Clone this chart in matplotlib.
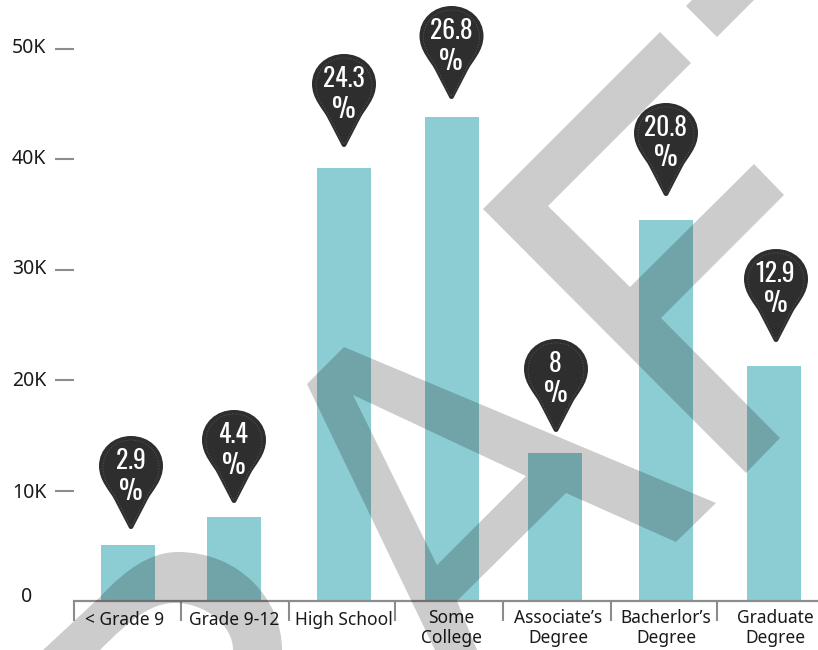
import matplotlib
matplotlib.use('Agg')
import matplotlib.pyplot as plt
from matplotlib.path import Path
from matplotlib.patches import PathPatch
from matplotlib.transforms import Affine2D, ScaledTranslation

plt.rcParams['font.family'] = ['Noto Sans', 'DejaVu Sans']
PIN_FONT = ['Oswald', 'Fjalla One', 'Roboto', 'DejaVu Sans']

# data
categories = ['< Grade 9', 'Grade 9-12', 'High School', 'Some\nCollege',
              "Associate\u2019s\nDegree", "Bacherlor\u2019s\nDegree", 'Graduate\nDegree']
counts = [5070, 7610, 39220, 43840, 13410, 34510, 21290]
percents = ['2.9', '4.4', '24.3', '26.8', '8', '20.8', '12.9']
y_values = [0, 10000, 20000, 30000, 40000, 50000]
y_labels = ['0', '10K', '20K', '30K', '40K', '50K']

# layout, in pixels of the 818x650 picture
bar_x = [128, 234, 344, 452, 555, 666, 774]
label_x = [125, 234, 344, 451, 558, 666, 775.5]
sep_x = [74, 181, 289, 395, 503, 611, 717]
pin_x = [131, 234, 344, 451.5, 556, 666, 776]
pin_tip = [529, 503, 147, 99, 432, 196, 342]
y_label_shift = [(-14, 7), (0, 0), (0, 2), (0, 3), (0, 3), (0, 3)]
label_extra_pad = [2, 2, 2, 0, 0, 0, 0]

W, H = 818, 650
AXIS_Y = 601
PX_PER_10K = 110.4
GREY = '#8c8c8c'

fig = plt.figure(figsize=(W / 100, H / 100), dpi=100)
ax = fig.add_axes([74 / W, (H - AXIS_Y) / H, (W - 74) / W, AXIS_Y / H])
ax.set_xlim(74, W)
ax.set_ylim(0, AXIS_Y / PX_PER_10K * 10000)

ax.bar(bar_x, counts, width=54, color='#8ccdd4')

for s in ['top', 'left', 'right']:
    ax.spines[s].set_visible(False)
ax.spines['bottom'].set_color(GREY)
ax.spines['bottom'].set_linewidth(1.6)

ax.set_yticks(y_values, y_labels)
ax.tick_params(axis='y', length=13.5, width=1.5, color=GREY, pad=6.5, labelsize=14, labelcolor='#1a1a1a')
ax.yaxis.get_major_ticks()[0].tick1line.set_visible(False)
for lab, (dx, dy) in zip(ax.get_yticklabels(), y_label_shift):
    lab.set_transform(lab.get_transform() + ScaledTranslation(dx / 100, dy / 100, fig.dpi_scale_trans))

ax.set_xticks(label_x, categories, linespacing=1.17)
ax.tick_params(axis='x', which='major', length=0, pad=5.5, labelsize=12.5, labelcolor='#1a1a1a')
ax.set_xticks(sep_x, minor=True)
ax.tick_params(axis='x', which='minor', length=14.5, width=1.5, color=GREY)
for t, extra in zip(ax.xaxis.get_major_ticks(), label_extra_pad):
    t.set_pad(5.5 + extra)

# overlay in picture pixels: watermark and pins
ov = fig.add_axes([0, 0, 1, 1])
ov.set_xlim(0, W)
ov.set_ylim(H, 0)
ov.axis('off')
ov.patch.set_alpha(0)

M, L, C, Z = Path.MOVETO, Path.LINETO, Path.CURVE4, Path.CLOSEPOLY


def poly(pts):
    return list(pts) + [pts[0]], [M] + [L] * (len(pts) - 1) + [Z]


def grey_shape(verts, codes):
    ov.add_patch(PathPatch(Path(verts, codes), facecolor='black', alpha=0.2, edgecolor='none', zorder=2))


v, c = poly([(686, 6), (692, 0), (754, 0), (717, 37)])
grey_shape(v, c)

v, c = poly([(660, 32), (691, 63), (548, 206), (630, 287), (754, 164), (784, 195),
             (661, 318), (780, 438), (746, 473), (483, 209)])
grey_shape(v, c)

v1, c1 = poly([(344, 347), (716, 503), (676, 542), (566, 493), (457, 601), (477, 650),
               (435, 650), (307, 384)])
v2, c2 = poly([(353, 395), (437, 565), (526, 476)])
grey_shape(v1 + v2, c1 + c2)

arc_v = [(43, 650), (100, 597),
         (125, 570), (150, 552), (178, 552),
         (240, 552), (282, 600), (282, 650),
         (233, 650),
         (233, 625), (205, 603), (175, 603),
         (150, 603), (130, 620), (100, 650),
         (43, 650)]
arc_c = [M, L, C, C, C, C, C, C, L, C, C, C, C, C, C, Z]
grey_shape(arc_v, arc_c)

# pin outline relative to its tip
pin_v = [(-2, -1), (-16.5, -29),
         (-21, -38), (-32, -48), (-32, -63),
         (-32, -80), (-18, -93), (0, -93),
         (18, -93), (32, -80), (32, -63),
         (32, -48), (21, -38), (16.5, -29),
         (2, -1),
         (1, 0.3), (-1, 0.3), (-2, -1),
         (-2, -1)]
pin_c = [M, L, C, C, C, C, C, C, C, C, C, C, C, C, L, C, C, C, Z]
pin_path = Path(pin_v, pin_c)

for x, tip, pct in zip(pin_x, pin_tip, percents):
    ov.add_patch(PathPatch(pin_path, facecolor='#2e2e2e', edgecolor='none', zorder=3,
                           transform=Affine2D().translate(x, tip) + ov.transData))
    inner = Affine2D().scale(0.875, 0.92).translate(x, tip - 3.5) + ov.transData
    ov.add_patch(PathPatch(pin_path, facecolor='none', edgecolor='#6a6a6a', linewidth=0.35,
                           linestyle=(0, (3, 3)), zorder=4, transform=inner))
    ov.text(x - 0.5, tip - 68, pct, color='white', fontsize=18.5, ha='center', va='center',
            family=PIN_FONT, zorder=5)
    ov.text(x - 0.5, tip - 38, '%', color='white', fontsize=19, ha='center', va='center',
            family=PIN_FONT, zorder=5)

fig.savefig('out.png', dpi=100)
